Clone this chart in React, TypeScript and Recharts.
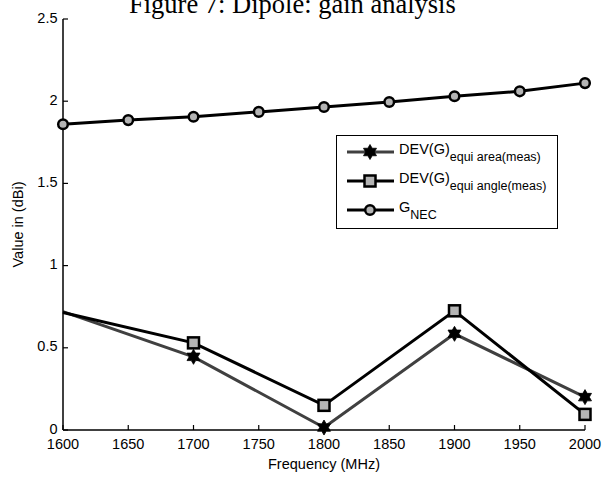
import { LineChart, Line, XAxis, YAxis, Legend } from "recharts";

// --- Data ---
const NEC_FREQS = [1600, 1650, 1700, 1750, 1800, 1850, 1900, 1950, 2000];
const G_NEC = [1.86, 1.885, 1.905, 1.935, 1.965, 1.995, 2.03, 2.06, 2.11];

const DEV_FREQS = [1600, 1700, 1800, 1900, 2000];
const DEV_EQUI_AREA = [0.72, 0.445, 0.015, 0.585, 0.2];
const DEV_EQUI_ANGLE = [0.715, 0.53, 0.15, 0.725, 0.095];

const X_TICKS = [1600, 1650, 1700, 1750, 1800, 1850, 1900, 1950, 2000];
const Y_TICKS = [0, 0.5, 1, 1.5, 2, 2.5];

const necData = NEC_FREQS.map((freq, i) => ({ freq, value: G_NEC[i] }));
const areaData = DEV_FREQS.map((freq, i) => ({ freq, value: DEV_EQUI_AREA[i] }));
const angleData = DEV_FREQS.map((freq, i) => ({ freq, value: DEV_EQUI_ANGLE[i] }));

// --- Styles ---
const FONT = "'Liberation Sans', Arial, sans-serif";
const MARKER_FILL = "#b4b4b4";
const GREY_LINE = "#404040";
const TICK_FONT = 14.5;

// --- Markers ---
const hexagram = (cx: number, cy: number, r: number) => {
  const pts: string[] = [];
  for (let k = 0; k < 12; k++) {
    const a = ((-90 + k * 30) * Math.PI) / 180;
    const rr = k % 2 === 0 ? r : r / Math.sqrt(3);
    pts.push(`${cx + rr * Math.cos(a)},${cy + rr * Math.sin(a)}`);
  }
  return pts.join(" ");
};

const StarMark = ({ cx, cy }: { cx: number; cy: number }) => (
  <polygon points={hexagram(cx, cy, 7.5)} fill="#000" stroke="#000" strokeWidth={0.8} />
);
const SquareMark = ({ cx, cy }: { cx: number; cy: number }) => (
  <rect x={cx - 5.5} y={cy - 5.5} width={11} height={11} fill={MARKER_FILL} stroke="#000" strokeWidth={2.5} />
);
const CircleMark = ({ cx, cy }: { cx: number; cy: number }) => (
  <circle cx={cx} cy={cy} r={4.8} fill={MARKER_FILL} stroke="#000" strokeWidth={2.5} />
);

// measured series have no marker on their first sample
const devDot = (Mark: any) => (p: any) =>
  p.index === 0 ? <g key={`d-${p.index}`} /> : <Mark key={`d-${p.index}`} cx={p.cx} cy={p.cy} />;

// --- Inward ticks (box style axes) ---
const BottomTick = ({ x, y, payload }: any) => (
  <g>
    <line x1={x} y1={y} x2={x} y2={y - 5} stroke="#000" strokeWidth={1.2} />
    <text x={x} y={y + 18.5} textAnchor="middle" fontSize={TICK_FONT} fill="#000">
      {payload.value}
    </text>
  </g>
);
const TopTick = ({ x, y }: any) => <line x1={x} y1={y} x2={x} y2={y + 5} stroke="#000" strokeWidth={1.2} />;
const LeftTick = ({ x, y, payload }: any) => (
  <g>
    <line x1={x} y1={y} x2={x + 5} y2={y} stroke="#000" strokeWidth={1.2} />
    <text x={x - 5.5} y={y - 1.5} dy="0.35em" textAnchor="end" fontSize={TICK_FONT} fill="#000">
      {payload.value}
    </text>
  </g>
);
const RightTick = ({ x, y }: any) => <line x1={x} y1={y} x2={x - 5} y2={y} stroke="#000" strokeWidth={1.2} />;

// --- Legend ---
const LEGEND_ITEMS = [
  { main: "DEV(G)", sub: "equi area(meas)", color: GREY_LINE, Mark: StarMark },
  { main: "DEV(G)", sub: "equi angle(meas)", color: "#000", Mark: SquareMark },
  { main: "G", sub: "NEC", color: "#000", Mark: CircleMark },
];

const LegendBox = () => (
  <svg width={222} height={94} style={{ display: "block", fontFamily: FONT }}>
    <rect x={0.5} y={0.5} width={221} height={93} fill="#fff" stroke="#000" strokeWidth={1} />
    {LEGEND_ITEMS.map((item, i) => {
      const cy = 17 + i * 29;
      return (
        <g key={i}>
          <line x1={11} y1={cy} x2={58} y2={cy} stroke={item.color} strokeWidth={3} />
          <item.Mark cx={34} cy={cy} />
          <text x={63} y={cy + 1.5} fontSize={14.5} fill="#000">
            {item.main}
            <tspan fontSize={12.5} dy={7.5}>
              {item.sub}
            </tspan>
          </text>
        </g>
      );
    })}
  </svg>
);

export default function App() {
  return (
    <div style={{ position: "absolute", left: 0, top: 0, width: 602, height: 477, background: "#fff" }}>
      <LineChart
        width={602}
        height={477}
        margin={{ top: 19, right: 17, bottom: 0, left: 13 }}
        style={{ fontFamily: FONT }}
      >
        <XAxis
          xAxisId="b"
          dataKey="freq"
          type="number"
          domain={[1600, 2000]}
          ticks={X_TICKS}
          height={47}
          tickSize={0}
          tickMargin={0}
          tickLine={false}
          axisLine={{ stroke: "#000", strokeWidth: 1.5 }}
          tick={<BottomTick />}
          label={{ value: "Frequency (MHz)", position: "insideBottom", offset: 8.5, fill: "#000", fontSize: 14.5 }}
        />
        <XAxis
          xAxisId="t"
          orientation="top"
          dataKey="freq"
          type="number"
          domain={[1600, 2000]}
          ticks={X_TICKS}
          height={0}
          tickSize={0}
          tickMargin={0}
          tickLine={false}
          axisLine={{ stroke: "#000", strokeWidth: 1.5 }}
          tick={<TopTick />}
        />
        <YAxis
          yAxisId="l"
          type="number"
          domain={[0, 2.5]}
          ticks={Y_TICKS}
          width={50}
          tickSize={0}
          tickMargin={0}
          tickLine={false}
          axisLine={{ stroke: "#000", strokeWidth: 1.5 }}
          tick={<LeftTick />}
          label={{
            value: "Value in (dBi)",
            angle: -90,
            position: "insideLeft",
            offset: 5,
            fill: "#000",
            fontSize: 14.5,
            style: { textAnchor: "middle" },
          }}
        />
        <YAxis
          yAxisId="r"
          orientation="right"
          type="number"
          domain={[0, 2.5]}
          ticks={Y_TICKS}
          width={0}
          tickSize={0}
          tickMargin={0}
          tickLine={false}
          axisLine={{ stroke: "#000", strokeWidth: 1.5 }}
          tick={<RightTick />}
        />
        <Legend
          layout="vertical"
          align="center"
          verticalAlign="middle"
          content={() => <LegendBox />}
          wrapperStyle={{ left: 336, top: 135, width: 222, height: 94 }}
        />
        <Line
          xAxisId="b"
          yAxisId="l"
          data={areaData}
          dataKey="value"
          type="linear"
          stroke={GREY_LINE}
          strokeWidth={3}
          dot={devDot(StarMark)}
          activeDot={false}
          isAnimationActive={false}
        />
        <Line
          xAxisId="b"
          yAxisId="l"
          data={angleData}
          dataKey="value"
          type="linear"
          stroke="#000"
          strokeWidth={3}
          dot={devDot(SquareMark)}
          activeDot={false}
          isAnimationActive={false}
        />
        <Line
          xAxisId="b"
          yAxisId="l"
          data={necData}
          dataKey="value"
          type="linear"
          stroke="#000"
          strokeWidth={3}
          dot={(p: any) => <CircleMark key={`n-${p.index}`} cx={p.cx} cy={p.cy} />}
          activeDot={false}
          isAnimationActive={false}
        />
      </LineChart>
      <svg width={602} height={30} style={{ position: "absolute", left: 0, top: 0, pointerEvents: "none" }}>
        <text x={129} y={12.7} fontSize={26.5} fill="#000" style={{ fontFamily: "'Liberation Serif', 'Times New Roman', serif" }}>
          Figure 7: Dipole: gain analysis
        </text>
      </svg>
    </div>
  );
}
